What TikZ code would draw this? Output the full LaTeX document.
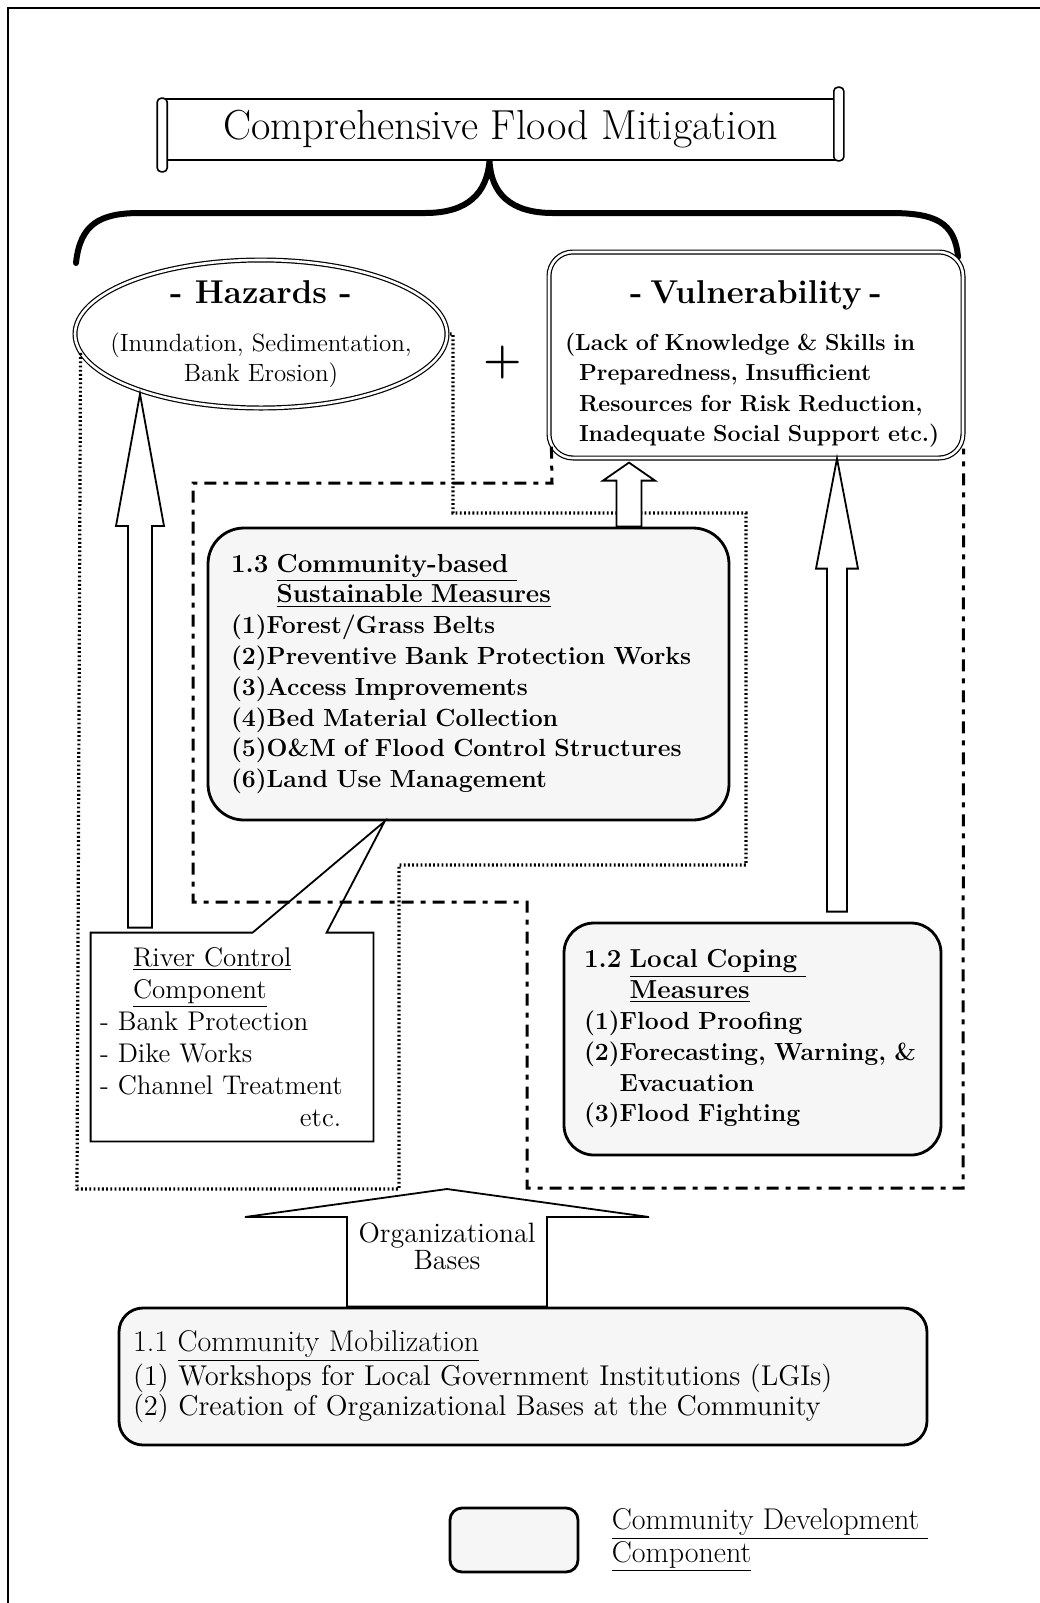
\documentclass[tikz,border=0pt]{standalone}
\usepackage{tikz}
\usetikzlibrary{shapes,positioning,calc}
\tikzstyle{banner} = [rectangle, draw, line width=0.8pt, fill=white, minimum width=337.5pt, minimum height=30.5pt, inner sep=0pt, font=\fontsize{21}{24}\selectfont]
\tikzstyle{roll} = [draw, line width=0.8pt, fill=white, rounded corners=2pt]
\tikzstyle{brace} = [draw, line width=3pt, line cap=round]
\tikzstyle{hazard} = [ellipse, draw, double, double distance=1.3pt, line width=0.6pt, minimum width=186pt, minimum height=74pt, inner sep=0pt]
\tikzstyle{vulbox} = [rectangle, draw, double, double distance=1.3pt, line width=0.6pt, rounded corners=12pt, minimum width=207pt, minimum height=103pt]
\tikzstyle{vultext} = [inner sep=0pt, text width=191pt, align=left, font=\fontsize{11.6}{15.25}\selectfont\bfseries]
\tikzstyle{measure} = [rectangle, draw, line width=1.4pt, fill=gray!7, align=left, font=\fontsize{12.4}{15.4}\selectfont\bfseries]
\tikzstyle{plainbox} = [rectangle, inner xsep=4.5pt, text width=132pt, minimum height=104pt, align=left, font=\fontsize{13.5}{16}\selectfont]
\tikzstyle{dotline} = [draw, line width=1.6pt, dash pattern=on 0.9pt off 1.2pt]
\tikzstyle{dashline} = [draw, line width=1.5pt, dash pattern=on 6pt off 3.5pt on 2.5pt off 3.5pt]
\tikzstyle{hollow} = [draw, line width=0.9pt, fill=white]
\newcommand{\hdfont}{\fontsize{16.5}{20}\selectfont\bfseries}

\begin{document}
\begin{tikzpicture}[x=0.5pt, y=-0.5pt]
	\useasboundingbox (0,0) rectangle (1040,1603);
	% Frame
	\draw[line width=1pt] (8,1603) -- (8,8) -- (1040,8);

	% Title and brace
	\node [banner] (title) at (500.5,129.5) {Comprehensive Flood Mitigation};
	\draw [roll] ($(title.north west)+(-5,0)$) rectangle ($(title.south west)+(5,11)$);
	\draw [roll] ($(title.north east)+(-5,-11)$) rectangle ($(title.south east)+(5,0)$);
	\coordinate (btip) at ($(title.south)+(-11,0)$);
	\draw [brace] (76,263) .. controls (80,224) and (100,213) .. (140,213) -- (425,213) .. controls (468,213) and (487,193) .. (btip) .. controls (491,193) and (510,213) .. (553,213) -- (890,213) .. controls (935,213) and (955,222) .. (958,257);

	% Top row
	\node [hazard] (hazards) at (261,334) {};
	\node [align=center, font=\fontsize{12.5}{15}\selectfont] (hazardtext) at (hazards.center) {{\hdfont - Hazards -}\\[9pt] (Inundation, Sedimentation,\\ Bank Erosion)};
	\node [font=\fontsize{22}{22}\selectfont\bfseries] (plus) at (503,363) {+};
	\node [vulbox] (vuln) at (756,355) {};
	\node [vultext] (vulntext) at ($(vuln.center)+(0,9)$) {\makebox[191pt]{\hdfont - Vulnerability -}\\[8pt]
		(Lack of Knowledge \& Skills in\\
		\hspace*{7pt}Preparedness, Insufficient\\
		\hspace*{7pt}Resources for Risk Reduction,\\
		\hspace*{7pt}Inadequate Social Support etc.)};

	% Middle
	\node [measure, rounded corners=18pt, inner xsep=11.5pt, text width=237.5pt, minimum height=146pt] (measures) at (468.5,674) {{\fontsize{13}{15.4}\selectfont 1.3 \underline{Community-based\ }}\\
		{\fontsize{13}{15.4}\selectfont\phantom{1.3 }\underline{Sustainable Measures}}\\
		(1)Forest/Grass Belts\\
		(2)Preventive Bank Protection Works\\
		(3)Access Improvements\\
		(4)Bed Material Collection\\
		(5)O\&M of Flood Control Structures\\
		(6)Land Use Management};
	\node [plainbox] (river) at (232,1037) {\hspace*{16.5pt}\underline{River Control}\\
		\hspace*{16.5pt}\underline{Component}\\
		- Bank Protection\\
		- Dike Works\\
		- Channel Treatment\\
		\hspace*{100pt}etc.};
	\node [measure, rounded corners=15pt, inner xsep=10pt, text width=168.5pt, minimum height=116pt] (cope) at (752.5,1039) {{\fontsize{13}{15}\selectfont 1.2 \underline{Local Coping\ }}\\
		{\fontsize{13}{15}\selectfont\phantom{1.2 }\underline{Measures}}\\
		(1)Flood Proofing\\
		(2)Forecasting, Warning, \&\\
		\phantom{(2)}Evacuation\\
		(3)Flood Fighting};

	% Bottom
	\node [measure, rounded corners=12pt, inner xsep=7pt, text width=390pt, minimum height=68.5pt, font=\fontsize{14.3}{15}\selectfont] (mobil) at (523,1376.5) {{\fontsize{15}{15}\selectfont 1.1 \underline{Community Mobilization}}\\
		(1) Workshops for Local Government Institutions (LGIs)\\
		(2) Creation of Organizational Bases at the Community};
	\node [measure, rounded corners=6pt, minimum width=64pt, minimum height=32pt, inner sep=0pt] (legend) at (514,1540) {};
	\node [right=16pt of legend, inner sep=0pt, align=left, font=\fontsize{15}{11.5}\selectfont] (legendtext) {\underline{Community Development\ }\\ \underline{Component}};

	% Regions
	\coordinate (dotbl) at (77,1189);
	\coordinate (otip) at (447,1189);
	\draw [dotline] (hazards.186) -- (dotbl) -- (399,1189) -- (399,865) -- (746,865) -- (746,513) -- (453,513) -- (453,334) -- (hazards.east);
	\draw [dashline] ($(vuln.south west)+(3,-12)$) -- (552,483) -- (193,483) -- (193,902) -- (527,902) -- (527,1188) -- (963,1188) -- ($(vuln.south east)+(0,-10)$);

	% Callout
	\coordinate (rtip) at ($(measures.south west)+(178,0)$);
	\draw [line width=0.9pt] (river.north west) -- ($(river.north west)+(162,0)$) -- (rtip) -- ($(river.north west)+(236,0)$) -- (river.north east) -- (river.south east) -- (river.south west) -- cycle;

	% Arrows
	\coordinate (htip) at ($(hazards.center)+(-121,60)$);
	\draw [hollow] (htip) -- ++(24,132) -- ++(-12,0) -- ($(htip |- river.north)+(12,-5)$) -- ++(-24,0) -- ($(htip)+(-12,132)$) -- ++(-12,0) -- cycle;
	\coordinate (vtip) at ($(vuln.south)+(81,0)$);
	\draw [hollow] (vtip) -- ++(21,110) -- ++(-11,0) -- ($(vtip |- cope.north)+(10,-10)$) -- ++(-20,0) -- ($(vtip)+(-10,110)$) -- ++(-11,0) -- cycle;
	\coordinate (stip) at ($(vuln.south)+(-127,4)$);
	\draw [hollow] (stip) -- ++(26,18) -- ++(-13.5,0) -- ($(stip |- measures.north)+(12.5,0)$) -- ++(-25,0) -- ($(stip)+(-12.5,18)$) -- ++(-13.5,0) -- cycle;
	\draw [hollow] (otip) -- ++(202,28) -- ++(-102,0) -- ($(otip |- mobil.north)+(100,0)$) -- ++(-200,0) -- ($(otip)+(-100,28)$) -- ++(-102,0) -- cycle;
	\node [font=\fontsize{14}{13.5}\selectfont, align=center] (orglabel) at (447,1246) {Organizational\\Bases};
\end{tikzpicture}
\end{document}
